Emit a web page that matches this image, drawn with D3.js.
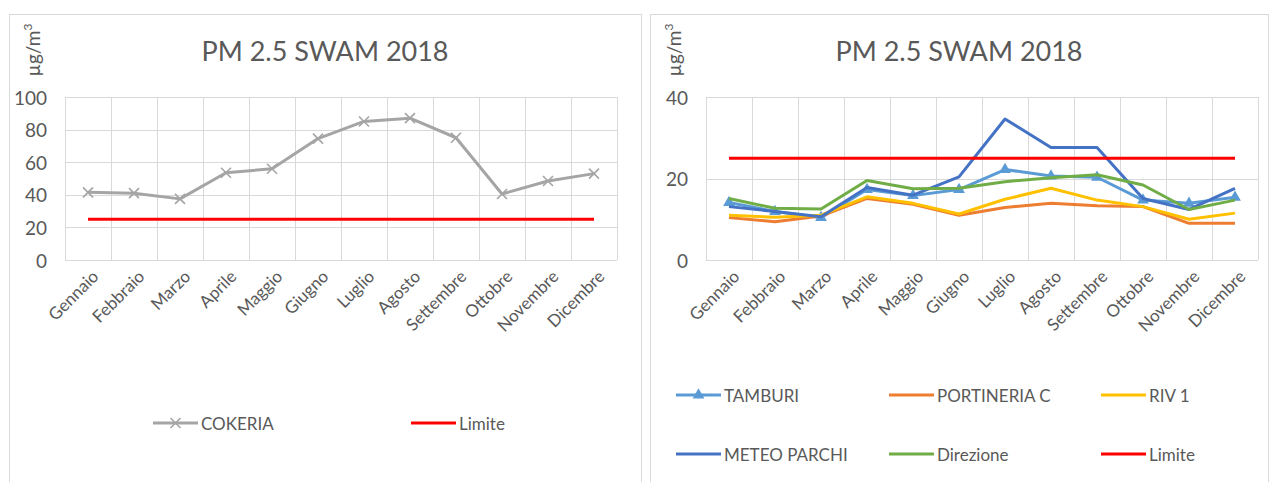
<!DOCTYPE html>
<html>
<head>
<meta charset="utf-8">
<script src="https://cdn.jsdelivr.net/npm/d3@7"></script>
<style>
  body { margin: 0; background: #fff; }
  text { font-family: Lato, "Open Sans", sans-serif; fill: #595959; }
</style>
</head>
<body>
<div id="chart"></div>
<script>
// months on the x axis
const months = ["Gennaio", "Febbraio", "Marzo", "Aprile", "Maggio", "Giugno",
  "Luglio", "Agosto", "Settembre", "Ottobre", "Novembre", "Dicembre"];

// left panel
const cokeria = [41.5, 41, 37.5, 53.5, 56, 74.5, 85, 87, 75, 40.5, 48.5, 53];
const limite = [25, 25, 25, 25, 25, 25, 25, 25, 25, 25, 25, 25];
const leftTicks = [0, 20, 40, 60, 80, 100];

// right panel
const tamburi = [14.1, 11.9, 10.4, 17.3, 15.8, 17.3, 22.2, 20.6, 20.3, 14.7, 13.9, 15.4];
const portineria = [10.4, 9.4, 10.8, 15.1, 13.7, 11, 12.9, 13.9, 13.3, 13.1, 9, 9];
const riv1 = [11, 10.5, 11, 15.5, 13.9, 11.3, 14.9, 17.6, 14.7, 13.1, 10, 11.5];
const meteoParchi = [13.1, 11.9, 10.6, 17.8, 15.9, 20.4, 34.6, 27.6, 27.6, 15.1, 12.4, 17.6];
const direzione = [15.1, 12.7, 12.5, 19.5, 17.5, 17.6, 19.2, 20.2, 20.9, 18.4, 12.4, 14.7];
const rightTicks = [0, 20, 40];

const W = 1271, H = 482;
const svg = d3.select("#chart").append("svg")
  .attr("width", W).attr("height", H);

function drawPanel(p) {
  const g = svg.append("g");

  g.append("rect")
    .attr("x", p.x0 + 0.5).attr("y", 14.5)
    .attr("width", p.x1 - p.x0).attr("height", 480)
    .attr("fill", "none").attr("stroke", "#d9d9d9");

  const x = d3.scaleBand().domain(months).range([p.plotL, p.plotR]);
  const y = d3.scaleLinear().domain([0, p.ymax]).range([260, 97]);

  // grid
  g.selectAll(".hg").data(p.ticks).join("line")
    .attr("x1", p.plotL).attr("x2", p.plotR)
    .attr("y1", d => Math.round(y(d)) + 0.5).attr("y2", d => Math.round(y(d)) + 0.5)
    .attr("stroke", "#d9d9d9");
  const vlines = months.map(m => x(m)).concat([p.plotR]);
  g.selectAll(".vg").data(vlines).join("line")
    .attr("x1", d => Math.round(d) + 0.5).attr("x2", d => Math.round(d) + 0.5)
    .attr("y1", 97).attr("y2", 260)
    .attr("stroke", "#d9d9d9");

  // y tick labels
  g.selectAll(".yl").data(p.ticks).join("text")
    .attr("x", p.plotL - 18).attr("y", d => y(d))
    .attr("text-anchor", "end").attr("dominant-baseline", "central")
    .attr("font-size", 19)
    .text(d => d);

  // x labels
  g.selectAll(".xl").data(months).join("text")
    .attr("transform", d => `translate(${x(d) + x.bandwidth() / 2 + 7},${273}) rotate(-45)`)
    .attr("text-anchor", "end").attr("dominant-baseline", "central")
    .attr("font-size", 17)
    .text(d => d);

  // title
  g.append("text")
    .attr("x", (p.x0 + p.x1) / 2).attr("y", 61)
    .attr("text-anchor", "middle").attr("font-size", 27)
    .text("PM 2.5 SWAM 2018");

  // unit label
  const u = g.append("text")
    .attr("transform", `translate(${p.x0 + 31},50) rotate(-90)`)
    .attr("text-anchor", "middle").attr("font-size", 19);
  u.append("tspan").text("µg/m");
  u.append("tspan").attr("font-size", 12).attr("dy", -8).text("3");

  const line = d3.line()
    .x((d, i) => x(months[i]) + x.bandwidth() / 2)
    .y(d => y(d));

  p.series.forEach(s => {
    g.append("path").datum(s.values)
      .attr("d", line)
      .attr("fill", "none").attr("stroke", s.color)
      .attr("stroke-width", 3).attr("stroke-linejoin", "round");
    if (s.marker === "x") {
      g.selectAll(null).data(s.values).join("path")
        .attr("transform", (d, i) => `translate(${x(months[i]) + x.bandwidth() / 2},${y(d)})`)
        .attr("d", "M-5,-5L5,5M-5,5L5,-5")
        .attr("stroke", s.color).attr("stroke-width", 1.6);
    } else if (s.marker === "tri") {
      g.selectAll(null).data(s.values).join("path")
        .attr("transform", (d, i) => `translate(${x(months[i]) + x.bandwidth() / 2},${y(d)})`)
        .attr("d", d3.symbol(d3.symbolTriangle, 60))
        .attr("fill", s.color);
    }
  });

  // legend
  p.legend.forEach(l => {
    const s = l.s;
    g.append("line")
      .attr("x1", l.x).attr("x2", l.x + 45)
      .attr("y1", l.y).attr("y2", l.y)
      .attr("stroke", s.color).attr("stroke-width", 3);
    if (s.marker === "x") {
      g.append("path")
        .attr("transform", `translate(${l.x + 22.5},${l.y})`)
        .attr("d", "M-5,-5L5,5M-5,5L5,-5")
        .attr("stroke", s.color).attr("stroke-width", 1.6);
    } else if (s.marker === "tri") {
      g.append("path")
        .attr("transform", `translate(${l.x + 22.5},${l.y})`)
        .attr("d", d3.symbol(d3.symbolTriangle, 60))
        .attr("fill", s.color);
    }
    g.append("text")
      .attr("x", l.x + 48).attr("y", l.y)
      .attr("dominant-baseline", "central").attr("font-size", 17)
      .text(s.name);
  });
}

const sCok = { name: "COKERIA", values: cokeria, color: "#a5a5a5", marker: "x" };
const sLimL = { name: "Limite", values: limite, color: "#ff0000" };
drawPanel({
  x0: 9, x1: 641, plotL: 65, plotR: 617, ymax: 100, ticks: leftTicks,
  series: [sCok, sLimL],
  legend: [{ s: sCok, x: 153, y: 423 }, { s: sLimL, x: 411, y: 423 }]
});

const sTam = { name: "TAMBURI", values: tamburi, color: "#5b9bd5", marker: "tri" };
const sPor = { name: "PORTINERIA C", values: portineria, color: "#ed7d31" };
const sRiv = { name: "RIV 1", values: riv1, color: "#ffc000" };
const sMet = { name: "METEO PARCHI", values: meteoParchi, color: "#4472c4" };
const sDir = { name: "Direzione", values: direzione, color: "#70ad47" };
const sLimR = { name: "Limite", values: limite, color: "#ff0000" };
drawPanel({
  x0: 650, x1: 1268, plotL: 706, plotR: 1258, ymax: 40, ticks: rightTicks,
  series: [sTam, sPor, sRiv, sMet, sDir, sLimR],
  legend: [
    { s: sTam, x: 676, y: 395 }, { s: sPor, x: 889, y: 395 }, { s: sRiv, x: 1101, y: 395 },
    { s: sMet, x: 676, y: 454 }, { s: sDir, x: 889, y: 454 }, { s: sLimR, x: 1101, y: 454 }
  ]
});
</script>
</body>
</html>
